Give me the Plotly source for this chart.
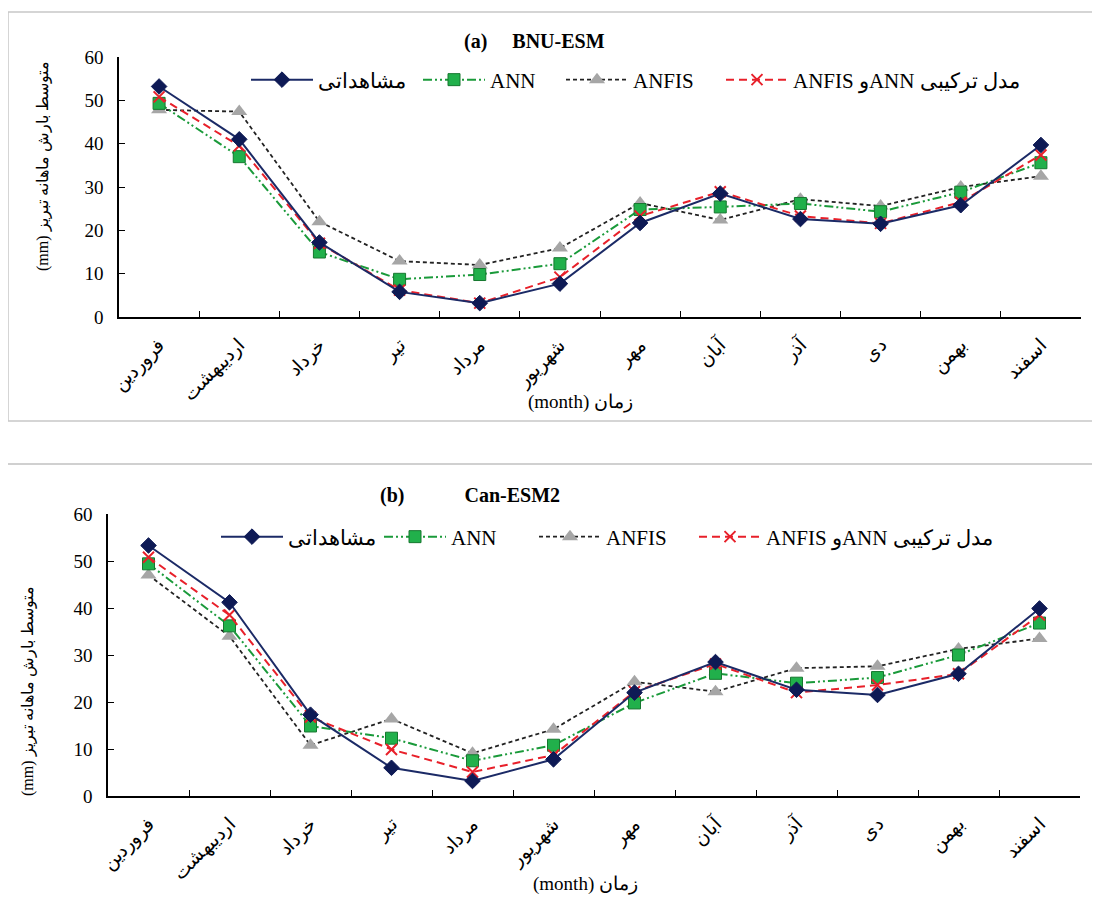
import plotly.graph_objects as go

months = ["فروردین", "اردیبهشت", "خرداد", "تیر", "مرداد", "شهریور",
          "مهر", "آبان", "آذر", "دی", "بهمن", "اسفند"]

# Panel (a) BNU-ESM
obs_a = [53.2, 41.0, 17.2, 5.8, 3.2, 7.7, 21.7, 28.5, 22.6, 21.5, 25.8, 39.7]
ann_a = [49.3, 37.0, 15.0, 8.7, 9.8, 12.3, 24.8, 25.4, 26.2, 24.3, 28.8, 35.6]
anfis_a = [47.8, 47.4, 22.0, 12.9, 12.0, 15.9, 26.3, 22.4, 27.2, 25.6, 30.0, 32.5]
hyb_a = [50.8, 39.5, 17.0, 6.2, 3.2, 9.2, 23.3, 28.9, 23.3, 21.6, 26.5, 37.4]

# Panel (b) Can-ESM2
obs_b = [53.3, 41.2, 17.3, 6.0, 3.2, 7.8, 22.0, 28.5, 22.6, 21.5, 26.0, 39.9]
ann_b = [49.4, 36.2, 14.9, 12.3, 7.5, 10.8, 19.8, 26.1, 24.0, 25.2, 30.0, 36.8]
anfis_b = [47.0, 34.0, 10.8, 16.4, 9.1, 14.2, 24.3, 22.2, 27.2, 27.6, 31.3, 33.5]
hyb_b = [50.8, 38.5, 16.8, 9.9, 5.1, 8.7, 22.2, 28.1, 22.0, 23.6, 26.0, 38.5]

names = ["مشاهداتی", "ANN", "ANFIS", "\u202bمدل ترکیبی ANNو ANFIS\u202c"]
y_title = "\u202bمتوسط بارش ماهانه تبریز (mm)\u202c"
x_title = "\u202bزمان (month)\u202c"
panel_titles = ["<b>(a)\u00a0\u00a0\u00a0\u00a0\u00a0BNU-ESM</b>",
                "<b>(b)\u00a0\u00a0\u00a0\u00a0\u00a0\u00a0\u00a0\u00a0\u00a0\u00a0\u00a0\u00a0Can-ESM2</b>"]

SERIF = "Liberation Serif"

W, H = 1100, 901
OX, OY = 8, 8  # page offset of the figure in the screenshot


def fx(sx):
    return (sx - OX) / W


def fy(sy):
    return 1 - (sy - OY) / H


styles = [
    dict(line=dict(color="#1b2a66", width=2, dash="solid"),
         marker=dict(symbol="diamond", size=12, color="#0e1a55", line=dict(color="#0e1a55", width=1))),
    dict(line=dict(color="#1a9a3a", width=2, dash="9px,3px,2px,3px,2px,3px"),
         marker=dict(symbol="square", size=12, color="#21b04b", line=dict(color="#16772f", width=1))),
    dict(line=dict(color="#222222", width=1.8, dash="4px,3px"),
         marker=dict(symbol="triangle-up", size=14, color="#a6a6a6", line=dict(color="#a6a6a6", width=0))),
    dict(line=dict(color="#e8202a", width=2, dash="8px,5px"),
         marker=dict(symbol="x-thin", size=11, color="#e8202a", line=dict(color="#e8202a", width=2))),
]

fig = go.Figure()
data_sets = [(obs_a, ann_a, anfis_a, hyb_a), (obs_b, ann_b, anfis_b, hyb_b)]
order = [2, 1, 3, 0]  # observed drawn last, on top
for p, series in enumerate(data_sets):
    xa = "x" if p == 0 else "x2"
    ya = "y" if p == 0 else "y2"
    for k in order:
        st = styles[k]
        fig.add_trace(go.Scatter(
            x=months, y=series[k], mode="lines+markers", name=names[k],
            line=st["line"], marker=st["marker"],
            xaxis=xa, yaxis=ya, showlegend=False))

# one legend per entry so each can sit where it sits in the original
ITEMW = 62
legend_sym_x = [[281, 453, 596, 756], [251, 414, 569, 729]]
legend_sym_y = [80, 537]
legend_layout = {}
n = 0
for p in range(2):
    for k in range(4):
        n += 1
        lid = "legend" if n == 1 else "legend%d" % n
        st = styles[k]
        fig.add_trace(go.Scatter(
            x=[None], y=[None], mode="lines+markers", name=names[k],
            line=st["line"], marker=st["marker"],
            xaxis="x" if p == 0 else "x2", yaxis="y" if p == 0 else "y2",
            legend=lid, showlegend=True))
        legend_layout[lid] = dict(
            orientation="h", x=fx(legend_sym_x[p][k] - (ITEMW + 10) / 2 + 1), xanchor="left",
            y=fy(legend_sym_y[p]), yanchor="middle", itemwidth=ITEMW,
            font=dict(family=SERIF, size=21, color="black"),
            bgcolor="rgba(0,0,0,0)", borderwidth=0)

tick_font = dict(family=SERIF, size=19, color="black")
month_font = dict(family=SERIF, size=19, color="black")


def yaxis_def(top, bottom, anchor):
    return dict(domain=[fy(bottom), fy(top)], anchor=anchor, range=[0, 60], dtick=10,
                showline=True, linecolor="black", linewidth=1.5, showgrid=False,
                zeroline=False, ticks="inside", ticklen=6, tickcolor="black",
                tickfont=tick_font, automargin=False, ticklabelstandoff=10)


def xaxis_def(left, right, anchor):
    return dict(domain=[fx(left), fx(right)], anchor=anchor, type="category",
                range=[-0.5, 11.5], tickangle=-45, tickson="boundaries",
                showline=True, linecolor="black", linewidth=1.5, showgrid=False,
                zeroline=False, ticks="inside", ticklen=6, tickcolor="black",
                tickfont=month_font, automargin=False, ticklabelstandoff=8)


fig.update_layout(
    width=W, height=H,
    margin=dict(l=0, r=0, t=0, b=0, autoexpand=False),
    paper_bgcolor="white", plot_bgcolor="white",
    font=dict(family=SERIF, color="black"),
    xaxis=xaxis_def(119, 1081, "y"),
    yaxis=yaxis_def(57, 317, "x"),
    xaxis2=xaxis_def(108, 1080, "y2"),
    yaxis2=yaxis_def(514, 796, "x2"),
    shapes=[
        dict(type="rect", xref="paper", yref="paper", x0=fx(8), x1=1.02,
             y0=fy(421), y1=fy(12), line=dict(color="#c8c8c8", width=1.5)),
        dict(type="line", xref="paper", yref="paper", x0=-0.02, x1=1.02,
             y0=fy(464), y1=fy(464), line=dict(color="#c0c0c0", width=1.5)),
    ],
    annotations=[
        dict(text=panel_titles[0], xref="paper", yref="paper", x=fx(534), y=fy(42),
             xanchor="center", yanchor="middle",
             showarrow=False, font=dict(family=SERIF, size=20, color="black")),
        dict(text=panel_titles[1], xref="paper", yref="paper", x=fx(470), y=fy(495),
             xanchor="center", yanchor="middle",
             showarrow=False, font=dict(family=SERIF, size=20, color="black")),
        dict(text=y_title, xref="paper", yref="paper", x=fx(43), y=fy(166),
             xanchor="center", yanchor="middle",
             textangle=-90, showarrow=False, font=dict(family=SERIF, size=16, color="black")),
        dict(text=y_title, xref="paper", yref="paper", x=fx(28), y=fy(691),
             xanchor="center", yanchor="middle",
             textangle=-90, showarrow=False, font=dict(family=SERIF, size=16, color="black")),
        dict(text=x_title, xref="paper", yref="paper", x=fx(580), y=fy(402),
             xanchor="center", yanchor="middle",
             showarrow=False, font=dict(family=SERIF, size=19, color="black")),
        dict(text=x_title, xref="paper", yref="paper", x=fx(585), y=fy(884),
             xanchor="center", yanchor="middle",
             showarrow=False, font=dict(family=SERIF, size=19, color="black")),
    ],
    **legend_layout,
)

fig.write_html("out.html")
